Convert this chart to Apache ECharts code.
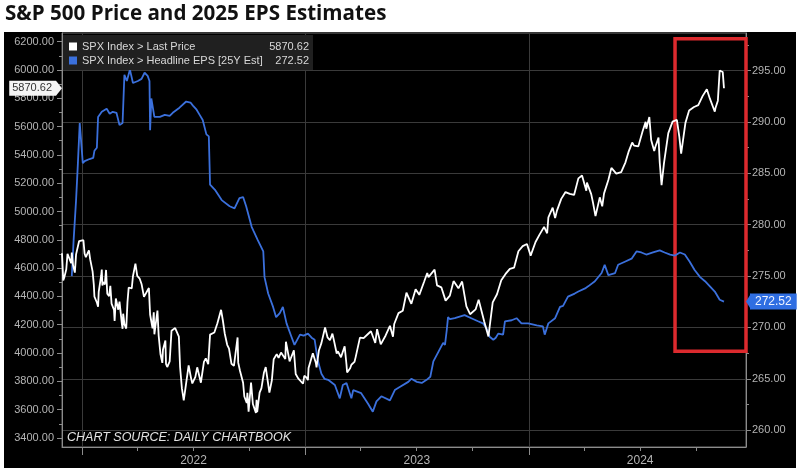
<!DOCTYPE html>
<html>
<head>
<meta charset="utf-8">
<script src="https://cdn.jsdelivr.net/npm/echarts@6/dist/echarts.min.js"></script>
<style>
html,body{margin:0;padding:0;background:#fff;}
#main{width:800px;height:470px;}
</style>
</head>
<body>
<div id="main"></div>
<script>
// ---- data ----
const titleText = 'S&P 500 Price and 2025 EPS Estimates';
const sourceText = 'CHART SOURCE: DAILY CHARTBOOK';
const priceName = 'SPX Index > Last Price';
const epsName = 'SPX Index > Headline EPS [25Y Est]';

const pricePoints = [
['2021-11-29',4705],['2021-12-01',4513],['2021-12-03',4538],['2021-12-06',4592],['2021-12-08',4701],['2021-12-10',4712],['2021-12-14',4634],['2021-12-15',4709],['2021-12-17',4621],['2021-12-20',4568],['2021-12-22',4697],['2021-12-27',4791],['2021-12-29',4793],
['2022-01-03',4797],['2022-01-05',4701],['2022-01-07',4677],['2022-01-10',4670],['2022-01-12',4726],['2022-01-14',4663],['2022-01-18',4577],['2022-01-20',4483],['2022-01-21',4398],['2022-01-24',4410],['2022-01-25',4357],['2022-01-27',4327],['2022-01-28',4432],['2022-02-01',4546],['2022-02-02',4589],['2022-02-03',4477],['2022-02-04',4501],['2022-02-07',4484],['2022-02-09',4587],['2022-02-11',4419],['2022-02-14',4401],['2022-02-16',4475],['2022-02-18',4349],['2022-02-22',4305],['2022-02-23',4226],['2022-02-25',4385],['2022-03-01',4306],['2022-03-03',4363],['2022-03-07',4201],['2022-03-08',4171],['2022-03-09',4278],['2022-03-11',4204],['2022-03-14',4173],['2022-03-16',4358],['2022-03-18',4463],['2022-03-23',4456],['2022-03-25',4543],['2022-03-29',4631],['2022-04-01',4545],['2022-04-05',4525],['2022-04-08',4488],['2022-04-12',4397],['2022-04-14',4392],['2022-04-20',4459],['2022-04-22',4272],['2022-04-26',4175],['2022-04-28',4287],['2022-04-29',4132],['2022-05-04',4300],['2022-05-06',4123],['2022-05-09',3991],['2022-05-12',3930],['2022-05-13',4023],['2022-05-17',4088],['2022-05-18',3923],['2022-05-20',3901],['2022-05-24',3941],['2022-05-27',4158],['2022-06-02',4176],['2022-06-08',4116],['2022-06-10',3901],['2022-06-13',3750],['2022-06-16',3666],['2022-06-17',3675],['2022-06-24',3912],['2022-06-28',3821],['2022-06-30',3785],['2022-07-05',3831],['2022-07-08',3899],['2022-07-14',3790],['2022-07-19',3937],['2022-07-22',3962],['2022-07-26',3921],['2022-07-29',4130],['2022-08-05',4145],['2022-08-10',4210],['2022-08-16',4305],['2022-08-19',4228],['2022-08-22',4138],['2022-08-26',4058],['2022-08-29',4031],['2022-09-02',3924],['2022-09-06',3909],['2022-09-12',4110],['2022-09-13',3932],['2022-09-16',3873],['2022-09-21',3790],['2022-09-23',3693],['2022-09-27',3647],['2022-09-28',3719],['2022-09-30',3586],['2022-10-04',3791],['2022-10-07',3640],['2022-10-12',3577],['2022-10-13',3669],['2022-10-14',3583],['2022-10-18',3720],['2022-10-21',3752],['2022-10-25',3860],['2022-10-28',3901],['2022-11-03',3720],['2022-11-07',3807],['2022-11-10',3956],['2022-11-15',3992],['2022-11-18',3965],['2022-11-22',4003],['2022-11-29',3958],['2022-11-30',4080],['2022-12-01',4076],['2022-12-06',3941],['2022-12-08',3963],['2022-12-13',4019],['2022-12-16',3852],['2022-12-20',3821],['2022-12-22',3822],['2022-12-28',3783],['2022-12-30',3839],
['2023-01-03',3825],['2023-01-05',3808],['2023-01-06',3895],['2023-01-09',3893],['2023-01-13',3999],['2023-01-18',3929],['2023-01-19',3899],['2023-01-23',4020],['2023-01-27',4070],['2023-02-02',4180],['2023-02-06',4111],['2023-02-10',4090],['2023-02-14',4137],['2023-02-17',4079],['2023-02-21',3997],['2023-02-23',4012],['2023-02-28',3970],['2023-03-02',3982],['2023-03-06',4048],['2023-03-09',3919],['2023-03-10',3862],['2023-03-13',3855],['2023-03-15',3892],['2023-03-17',3917],['2023-03-22',3937],['2023-03-24',3971],['2023-03-31',4109],['2023-04-06',4105],['2023-04-14',4138],['2023-04-18',4154],['2023-04-25',4071],['2023-04-28',4169],['2023-05-04',4061],['2023-05-12',4124],['2023-05-19',4192],['2023-05-24',4115],['2023-05-26',4205],['2023-06-02',4282],['2023-06-09',4299],['2023-06-15',4426],['2023-06-23',4348],['2023-06-30',4450],['2023-07-06',4411],['2023-07-14',4505],['2023-07-19',4565],['2023-07-21',4536],['2023-07-31',4589],['2023-08-04',4478],['2023-08-11',4464],['2023-08-18',4370],['2023-08-25',4406],['2023-08-31',4508],['2023-09-01',4516],['2023-09-08',4457],['2023-09-14',4505],['2023-09-21',4330],['2023-09-27',4274],['2023-10-06',4308],['2023-10-11',4377],['2023-10-20',4224],['2023-10-27',4117],['2023-11-03',4358],['2023-11-10',4415],['2023-11-17',4514],['2023-11-24',4559],['2023-12-01',4595],['2023-12-08',4604],['2023-12-15',4719],['2023-12-22',4755],['2023-12-29',4770],
['2024-01-04',4688],['2024-01-12',4784],['2024-01-19',4840],['2024-01-26',4891],['2024-01-31',4846],['2024-02-02',4959],['2024-02-09',5027],['2024-02-13',4953],['2024-02-16',5006],['2024-02-23',5089],['2024-03-01',5137],['2024-03-08',5124],['2024-03-15',5117],['2024-03-22',5234],['2024-03-28',5254],['2024-04-04',5147],['2024-04-05',5204],['2024-04-12',5123],['2024-04-15',5061],['2024-04-19',4967],['2024-04-26',5100],['2024-04-30',5036],['2024-05-03',5128],['2024-05-10',5223],['2024-05-15',5308],['2024-05-17',5303],['2024-05-23',5268],['2024-05-31',5278],['2024-06-07',5347],['2024-06-12',5421],['2024-06-18',5487],['2024-06-21',5465],['2024-06-28',5460],['2024-07-05',5567],['2024-07-10',5633],['2024-07-11',5585],['2024-07-16',5667],['2024-07-19',5505],['2024-07-24',5427],['2024-07-26',5459],['2024-07-31',5522],['2024-08-02',5346],['2024-08-05',5186],['2024-08-07',5199],['2024-08-09',5344],['2024-08-16',5554],['2024-08-23',5635],['2024-08-30',5648],['2024-09-03',5529],['2024-09-06',5408],['2024-09-13',5626],['2024-09-19',5713],['2024-09-27',5738],['2024-10-04',5751],['2024-10-11',5815],['2024-10-18',5864],['2024-10-23',5797],['2024-10-25',5808],['2024-10-31',5705],['2024-11-01',5729],['2024-11-05',5783],['2024-11-08',5996],['2024-11-11',6001],['2024-11-13',5985],['2024-11-15',5870.62]
];

const epsPoints = [
['2021-12-15',275.0],['2021-12-18',278.5],['2021-12-22',282.4],['2021-12-25',286.0],['2021-12-28',289.9],['2021-12-30',290.0],
['2022-01-02',286.0],['2022-01-05',286.2],['2022-01-13',286.4],['2022-01-19',286.5],['2022-01-21',287.2],['2022-01-25',287.5],['2022-01-27',290.5],['2022-02-02',291.0],['2022-02-10',291.3],['2022-02-15',290.8],['2022-02-20',291.0],['2022-02-26',290.9],['2022-03-03',289.7],['2022-03-08',289.9],['2022-03-11',294.6],['2022-03-15',294.0],['2022-03-20',295.1],['2022-03-25',293.8],['2022-04-02',294.0],['2022-04-08',294.2],['2022-04-13',294.8],['2022-04-18',294.5],['2022-04-21',294.0],['2022-04-22',289.2],['2022-04-24',292.3],['2022-04-29',290.5],['2022-05-08',290.5],['2022-05-16',290.7],['2022-05-24',290.6],['2022-05-29',290.9],['2022-06-09',291.4],['2022-06-20',292.0],['2022-06-27',291.9],['2022-07-01',291.6],['2022-07-07',291.2],['2022-07-12',290.7],['2022-07-17',290.2],['2022-07-23',288.8],['2022-07-27',288.6],['2022-07-29',283.9],['2022-08-06',283.4],['2022-08-17',282.4],['2022-08-30',281.8],['2022-09-07',281.6],['2022-09-15',282.6],['2022-09-21',282.7],['2022-09-26',281.8],['2022-10-05',279.8],['2022-10-08',279.4],['2022-10-15',278.5],['2022-10-24',277.4],['2022-10-26',274.9],['2022-11-01',273.3],['2022-11-09',272.0],['2022-11-14',271.0],['2022-11-20',271.4],['2022-11-25',272.0],['2022-12-01',270.4],['2022-12-09',269.1],['2022-12-14',268.3],['2022-12-23',269.3],['2022-12-29',269.2],
['2023-01-05',269.4],['2023-01-11',269.0],['2023-01-16',268.8],['2023-01-21',266.8],['2023-01-27',265.5],['2023-02-01',265.0],['2023-02-07',264.9],['2023-02-18',264.4],['2023-02-26',263.1],['2023-03-03',264.4],['2023-03-09',264.6],['2023-03-17',263.1],['2023-03-20',263.9],['2023-04-02',263.6],['2023-04-13',262.6],['2023-04-21',261.8],['2023-04-27',262.8],['2023-05-05',263.3],['2023-05-19',262.9],['2023-05-27',263.9],['2023-06-04',264.2],['2023-06-18',264.7],['2023-06-23',265.0],['2023-07-02',264.7],['2023-07-10',264.6],['2023-07-18',264.9],['2023-07-24',265.2],['2023-07-29',266.7],['2023-08-06',267.6],['2023-08-14',268.5],['2023-08-17',268.3],['2023-08-20',269.8],['2023-08-22',271.0],['2023-08-25',270.8],['2023-09-02',270.9],['2023-09-18',271.2],['2023-09-29',270.9],['2023-10-10',270.6],['2023-10-18',270.4],['2023-10-24',269.9],['2023-10-29',269.1],['2023-11-04',268.8],['2023-11-08',269.0],['2023-11-12',269.4],['2023-11-20',269.3],['2023-11-23',270.6],['2023-12-04',270.7],['2023-12-12',270.9],['2023-12-20',270.4],['2023-12-31',270.4],
['2024-01-14',270.2],['2024-01-24',270.1],['2024-01-27',269.3],['2024-02-02',270.4],['2024-02-13',270.9],['2024-02-21',272.0],['2024-02-26',272.1],['2024-03-05',273.0],['2024-03-16',273.3],['2024-03-22',273.5],['2024-04-02',273.8],['2024-04-07',274.0],['2024-04-18',274.5],['2024-04-29',275.3],['2024-05-04',276.1],['2024-05-10',275.1],['2024-05-21',275.3],['2024-05-26',276.1],['2024-06-06',276.4],['2024-06-17',276.7],['2024-06-25',277.4],['2024-07-03',277.3],['2024-07-11',277.1],['2024-07-22',277.3],['2024-08-02',277.5],['2024-08-10',277.3],['2024-08-19',277.1],['2024-08-27',277.0],['2024-09-04',277.3],['2024-09-12',277.1],['2024-09-20',276.4],['2024-09-28',275.6],['2024-10-07',274.9],['2024-10-15',274.5],['2024-10-23',274.0],['2024-10-31',273.5],['2024-11-08',272.7],['2024-11-15',272.52]
];

const lastPrice = 5870.62;
const lastEps = 272.52;

const xStart = '2021-11-29';
const xEnd = '2024-12-21';
const yearTicks = ['2022-01-01','2023-01-01','2024-01-01'];
const yearLabelAt = ['2022-07-02','2023-07-02','2024-07-01'];
const quarterTicks = ['2022-04-01','2022-07-01','2022-10-01','2023-04-01','2023-07-01','2023-10-01','2024-04-01','2024-07-01','2024-10-01'];

const leftTicks = [3400,3600,3800,4000,4200,4400,4600,4800,5000,5200,5400,5600,5800,6000,6200];
const leftMinorTicks = [3500,3700,3900,4100,4300,4500,4700,4900,5100,5300,5500,5700,5900,6100];
const rightTicks = [260,265,270,275,280,285,290,295];
const rightMinorTicks = [262.5,267.5,272.5,277.5,282.5,287.5,292.5,297.5];

const leftRange = [3336, 6261];
const rightRange = [258.36, 298.67];

// highlighted window (red box)
const boxFrom = ['2024-08-27', 298.1];
const boxTo = [xEnd, 267.68];

// ---- build ----
const t = s => Date.parse(s + 'T00:00:00Z');
const FONT = 'Liberation Sans';
const AX = '#8c8c8c';
const LBL = '#b4b4b4';
const GRIDC = '#3a3a3a';
const NOLINE = {color: 'rgba(0,0,0,0)', width: 0};

const chart = echarts.init(document.getElementById('main'), null, {renderer: 'canvas'});

const lastVals = {};
lastVals[priceName] = lastPrice.toFixed(2);
lastVals[epsName] = lastEps.toFixed(2);

const option = {
  animation: false,
  backgroundColor: '#ffffff',
  graphic: [{
    type: 'rect', z: -100, silent: true,
    shape: {x: 4, y: 32, width: 792, height: 436},
    style: {fill: '#000000'}
  }],
  title: [
    {text: titleText, left: 5, top: 4, padding: 0,
     textStyle: {fontFamily: 'Open Sans', fontWeight: 'bold', fontSize: 20.6, color: '#111111'}},
    {text: sourceText, left: 67, top: 431, padding: 0,
     textStyle: {fontFamily: FONT, fontStyle: 'italic', fontWeight: 'normal', fontSize: 12.5, color: '#e2e2e2'}}
  ],
  legend: {
    show: true,
    data: [priceName, epsName],
    orient: 'vertical',
    left: 63, top: 35,
    padding: [6, 4, 4, 6],
    itemWidth: 8, itemHeight: 8, itemGap: 3,
    icon: 'rect',
    selectedMode: false,
    backgroundColor: '#202020',
    textStyle: {
      color: '#d8d8d8', fontFamily: FONT, fontSize: 11, lineHeight: 11,
      rich: {
        n: {width: 182, fontFamily: FONT, fontSize: 11, color: '#d8d8d8'},
        v: {width: 45, align: 'right', fontFamily: FONT, fontSize: 11, color: '#d8d8d8'}
      }
    },
    formatter: name => '{n|' + name + '}{v|' + lastVals[name] + '}'
  },
  grid: {
    left: 62, right: 54, top: 33, bottom: 23,
    show: true, borderColor: '#6e6e6e', borderWidth: 1, backgroundColor: 'transparent'
  },
  xAxis: [
    {
      type: 'value', min: t(xStart), max: t(xEnd), position: 'bottom',
      axisLine: {show: true, lineStyle: {color: AX}},
      axisTick: {show: true, length: 8, lineStyle: {color: AX}, customValues: yearTicks.map(t)},
      axisLabel: {show: true, customValues: yearLabelAt.map(t), color: LBL, fontFamily: FONT, fontSize: 12, margin: 8,
        formatter: v => String(new Date(v).getUTCFullYear())},
      splitLine: {show: true, lineStyle: {color: GRIDC, width: 1}}
    },
    {
      type: 'value', min: t(xStart), max: t(xEnd), position: 'bottom',
      axisLine: {show: false},
      axisTick: {show: true, length: 4, lineStyle: {color: AX}, customValues: quarterTicks.map(t)},
      axisLabel: {show: false},
      splitLine: {show: false}
    }
  ],
  yAxis: [
    {
      type: 'value', position: 'left', min: leftRange[0], max: leftRange[1],
      axisLine: {show: true, lineStyle: {color: AX}},
      axisTick: {show: true, length: 5, lineStyle: {color: AX}, customValues: leftTicks},
      axisLabel: {customValues: leftTicks, color: LBL, fontFamily: FONT, fontSize: 11, margin: 8,
        formatter: v => v.toFixed(2)},
      splitLine: {show: false}
    },
    {
      type: 'value', position: 'right', min: rightRange[0], max: rightRange[1],
      axisLine: {show: true, lineStyle: {color: AX}},
      axisTick: {show: true, length: 5, lineStyle: {color: AX}, customValues: rightTicks},
      axisLabel: {customValues: rightTicks, color: LBL, fontFamily: FONT, fontSize: 11, margin: 6,
        formatter: v => v.toFixed(2)},
      splitLine: {show: true, lineStyle: {color: GRIDC, width: 1}}
    },
    {
      type: 'value', position: 'left', min: leftRange[0], max: leftRange[1],
      axisLine: {show: false},
      axisTick: {show: true, length: 3, lineStyle: {color: AX}, customValues: leftMinorTicks},
      axisLabel: {show: false}, splitLine: {show: false}
    },
    {
      type: 'value', position: 'right', min: rightRange[0], max: rightRange[1],
      axisLine: {show: false},
      axisTick: {show: true, length: 3, lineStyle: {color: AX}, customValues: rightMinorTicks},
      axisLabel: {show: false}, splitLine: {show: false}
    }
  ],
  series: [
    {
      name: epsName, type: 'line', xAxisIndex: 0, yAxisIndex: 1,
      data: epsPoints.map(p => [t(p[0]), p[1]]),
      showSymbol: false, symbol: 'none', clip: false,
      itemStyle: {color: '#3b70dc'},
      lineStyle: {color: '#3b70dc', width: 1.8},
      z: 2,
      markLine: {
        silent: true, symbol: 'none', animation: false,
        lineStyle: NOLINE,
        label: {show: true, position: 'end', distance: 4, formatter: lastEps.toFixed(2),
          backgroundColor: '#2f6ee2', color: '#eef3ff', fontFamily: FONT, fontSize: 12, padding: [2, 5, 2, 5]},
        data: [{yAxis: lastEps}]
      },
      markPoint: {
        silent: true, animation: false,
        label: {show: false},
        data: [{coord: [t(xEnd), lastEps], symbol: 'triangle', symbolSize: [16, 5], symbolRotate: 90,
          symbolOffset: [2.5, 0], itemStyle: {color: '#2f6ee2'}}]
      },
      markArea: {
        silent: true,
        itemStyle: {color: 'rgba(0,0,0,0)', borderColor: '#dc2a2e', borderWidth: 3.5},
        label: {show: false},
        data: [[{xAxis: t(boxFrom[0]), yAxis: boxFrom[1]}, {xAxis: t(boxTo[0]), yAxis: boxTo[1]}]]
      }
    },
    {
      name: priceName, type: 'line', xAxisIndex: 0, yAxisIndex: 0,
      data: pricePoints.map(p => [t(p[0]), p[1]]),
      showSymbol: false, symbol: 'none', clip: false,
      itemStyle: {color: '#ffffff'},
      lineStyle: {color: '#ffffff', width: 1.8},
      z: 3,
      markLine: {
        silent: true, symbol: 'none', animation: false,
        lineStyle: NOLINE,
        label: {show: true, position: 'start', distance: 6, formatter: lastPrice.toFixed(2),
          backgroundColor: '#f4f4f4', color: '#333333', fontFamily: FONT, fontSize: 11, padding: [2, 4, 2, 3]},
        data: [{yAxis: lastPrice}]
      },
      markPoint: {
        silent: true, animation: false,
        label: {show: false},
        data: [{coord: [t(xStart), lastPrice], symbol: 'triangle', symbolSize: [15, 6], symbolRotate: -90,
          symbolOffset: [-3, 0], itemStyle: {color: '#f4f4f4'}}]
      }
    }
  ]
};
chart.setOption(option);
</script>
</body>
</html>
